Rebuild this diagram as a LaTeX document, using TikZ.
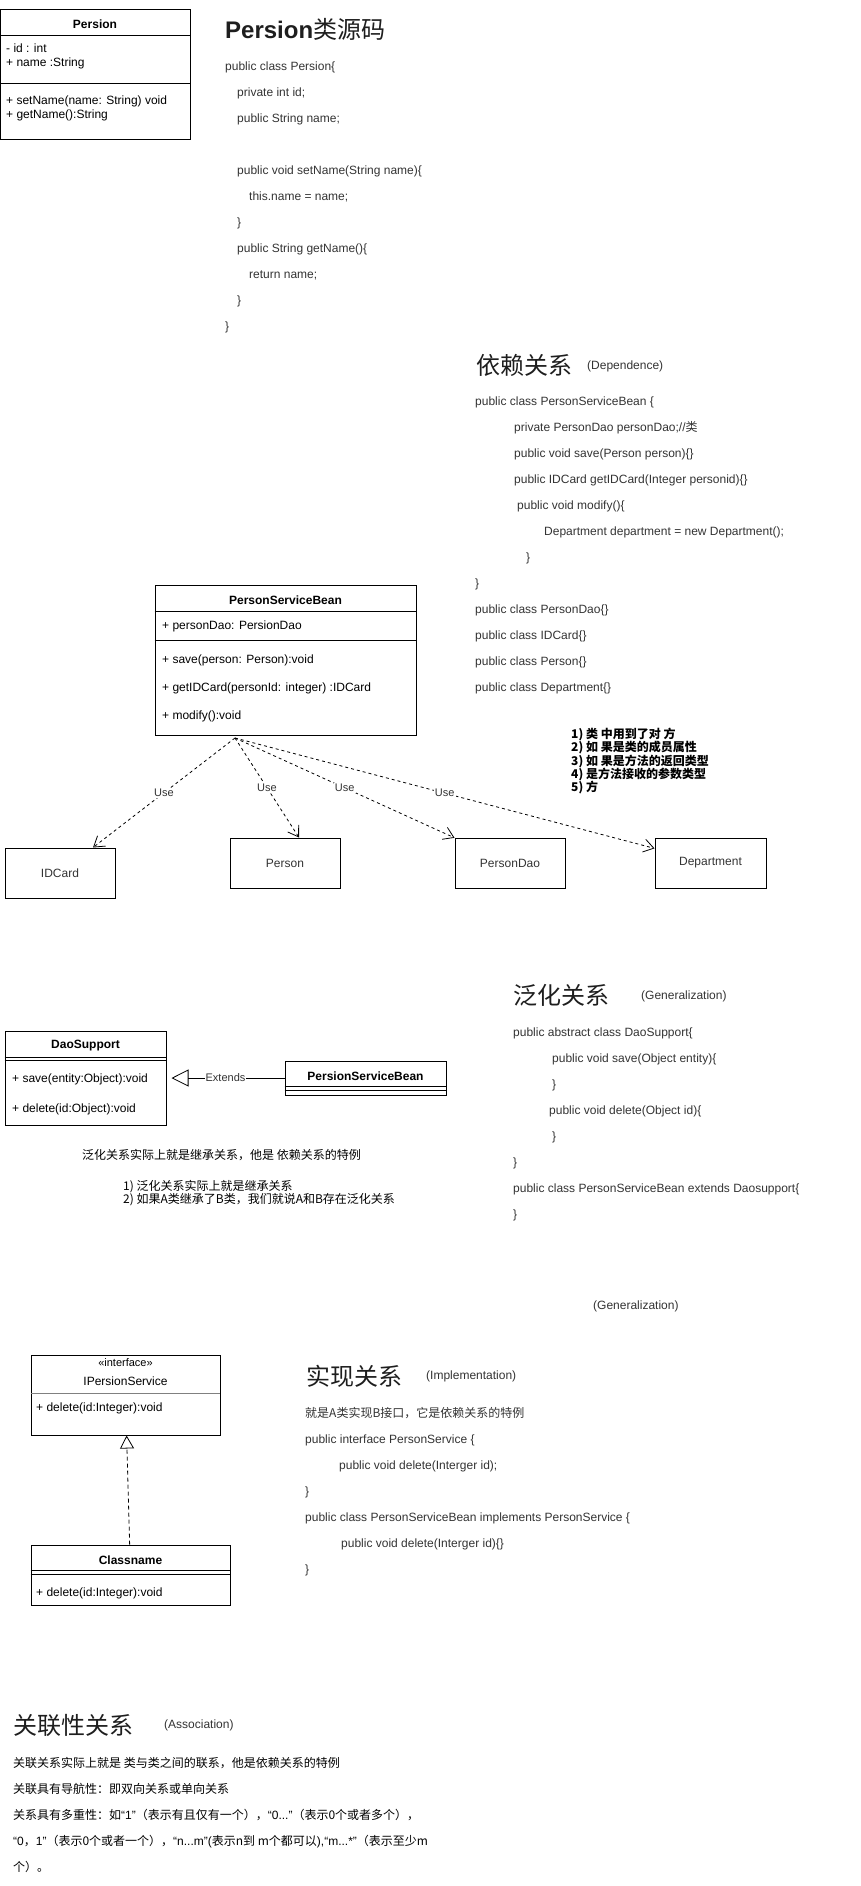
\documentclass[tikz,border=0pt]{standalone}
\usepackage{fontspec}
\setmainfont{Liberation Sans}
\newfontfamily\cjk{Noto Sans CJK SC}
\usetikzlibrary{arrows.meta,calc,positioning}
\definecolor{codeink}{RGB}{51,51,51}
\definecolor{titleink}{RGB}{30,30,30}
\newcommand\codefont{\fontsize{12pt}{26pt}\selectfont}
\newcommand\umlfont{\fontsize{12pt}{14pt}\selectfont}
\newcommand\bigfont{\fontsize{24pt}{28pt}\selectfont}
\newcommand\lblfont{\fontsize{11pt}{13pt}\selectfont}
\newcommand\lat[1]{{\normalfont#1}}
\tikzset{
  umlbox/.style={draw,line width=1pt,inner sep=0pt},
  umlhead/.style={font=\umlfont\bfseries,inner sep=0pt},
  umltxt/.style={font=\umlfont,align=left,anchor=west,inner sep=0pt},
  smallbox/.style={draw,line width=1pt,minimum width=110pt,minimum height=50pt,font=\umlfont,text=codeink},
  codeblock/.style={font=\codefont,text=codeink,align=left,anchor=north west,inner sep=0pt},
  heading/.style={font=\bigfont,text=titleink,anchor=west,inner sep=0pt},
  engnote/.style={font=\umlfont,text=codeink,anchor=west,inner sep=0pt},
  cjknote/.style={font=\umlfont\cjk,align=left,anchor=west,inner sep=0pt},
  usedep/.style={line width=0.8pt,dash pattern=on 3pt off 3pt,-{Straight Barb[length=10pt,width=13pt]}},
  uselbl/.style={font=\lblfont,text=codeink,fill=white,inner sep=1pt},
  extendsarr/.style={line width=0.8pt,-{Triangle[open,length=17pt,width=17pt]},shorten >=5pt},
  realize/.style={line width=0.8pt,dash pattern=on 4pt off 3pt,-{Triangle[open,length=13pt,width=14pt]}}
}
\begin{document}
\begin{tikzpicture}[x=1pt,y=-1pt]
  \useasboundingbox (0,0) rectangle (861,1886);
  % Persion
  \node[umlbox,minimum width=190pt,minimum height=130pt] (persion) at (95,75) {};
  \node[umlhead] (persionName) at (95,24) {Persion};
  \node[umltxt] (persionAttr) at (6,56) {- id : int\\+ name :String};
  \node[umltxt] (persionOps) at (6,108) {+ setName(name: String) void\\+ getName():String};
  \draw (persion.north west) ++(0,26) -- ++(190,0);
  \draw (persion.north west) ++(0,74) -- ++(190,0);
  \node[heading] (hPersion) at (225,29) {{\bfseries Persion}{\cjk 类源码}};
  \node[codeblock] (srcPersion) at (225,62) {public class Persion\{\\
    \hspace*{12pt}private int id;\\
    \hspace*{12pt}public String name;\\[26pt]
    \hspace*{12pt}public void setName(String name)\{\\
    \hspace*{24pt}this.name = name;\\
    \hspace*{12pt}\}\\
    \hspace*{12pt}public String getName()\{\\
    \hspace*{24pt}return name;\\
    \hspace*{12pt}\}\\
    \}};

  % dependence
  \node[heading] (hDep) at (476,365) {\cjk 依赖关系};
  \node[engnote] (hDepEn) at (587,366) {(Dependence)};
  \node[codeblock] (srcDep) at (475,397) {public class PersonServiceBean \{\\
    \hspace*{39pt}private PersonDao personDao;//{\cjk 类}\\
    \hspace*{39pt}public void save(Person person)\{\}\\
    \hspace*{39pt}public IDCard getIDCard(Integer personid)\{\}\\
    \hspace*{42pt}public void modify()\{\\
    \hspace*{69pt}Department department = new Department();\\
    \hspace*{51pt}\}\\
    \}\\
    public class PersonDao\{\}\\
    public class IDCard\{\}\\
    public class Person\{\}\\
    public class Department\{\}};
  \node[umlbox,minimum width=261pt,minimum height=150pt] (psb) at (285.5,660) {};
  \node[umlhead] (psbName) at (285.5,600) {PersonServiceBean};
  \node[umltxt] (psbAttr) at (162,626) {+ personDao: PersionDao};
  \node[umltxt] (psbOps) at (162,688) {+ save(person: Person):void\\[14pt]
    + getIDCard(personId: integer) :IDCard\\[14pt]
    + modify():void};
  \draw (psb.north west) ++(0,27) -- ++(261,0);
  \draw (psb.north west) ++(0,56) -- ++(261,0);
  \node[smallbox] (idcard) at (60,873) {IDCard};
  \node[smallbox] (person) at (285,863) {Person};
  \node[smallbox] (persondao) at (510,863) {PersonDao};
  \node[smallbox,minimum width=111pt] (department) at (710.5,863) {Department};
  \coordinate (useSrc) at (235,738);
  \draw[usedep] (useSrc) -- node[uselbl] {Use} (idcard);
  \draw[usedep] (useSrc) -- node[uselbl] {Use} ($(person.north)+(14,0)$);
  \draw[usedep] (useSrc) -- node[uselbl] {Use} (persondao);
  \draw[usedep] (useSrc) -- node[uselbl] {Use} (department);
  \node[cjknote,font=\fontsize{12pt}{13.3pt}\selectfont\cjk\bfseries,anchor=north west] (depList) at (571,728) {1) 类 中用到了对 方\\2) 如 果是类的成员属性\\3) 如 果是方法的返回类型\\4) 是方法接收的参数类型\\5) 方};

  % generalization
  \node[umlbox,minimum width=161pt,minimum height=94pt] (daosupport) at (85.5,1078) {};
  \node[umlhead] (daoName) at (85.5,1046) {DaoSupport};
  \draw (daosupport.north west) ++(0,27) -- ++(161,0);
  \draw (daosupport.north west) ++(0,30) -- ++(161,0);
  \node[umltxt] (daoOps) at (12,1094) {+ save(entity:Object):void\\[16pt]+ delete(id:Object):void};
  \node[umlbox,minimum width=161pt,minimum height=34pt] (psbExt) at (365.5,1078) {};
  \node[umlhead] (psbExtName) at (365.5,1076) {PersionServiceBean};
  \draw (psbExt.north west) ++(0,26) -- ++(161,0);
  \draw (psbExt.north west) ++(0,30) -- ++(161,0);
  \draw[extendsarr] (psbExt) -- node[uselbl] {Extends} (daosupport);
  \node[cjknote] (genNote) at (82,1155) {泛化关系实际上就是继承关系，他是 依赖关系的特例};
  \node[cjknote,font=\fontsize{12pt}{13.5pt}\selectfont\cjk] (genList) at (123,1193) {1) 泛化关系实际上就是继承关系\\2) 如果A类继承了B类，我们就说A和B存在泛化关系};
  \node[heading] (hGen) at (513,995) {\cjk 泛化关系};
  \node[engnote] (hGenEn) at (641,996) {(Generalization)};
  \node[codeblock] (srcGen) at (513,1028) {public abstract class DaoSupport\{\\
    \hspace*{39pt}public void save(Object entity)\{\\
    \hspace*{39pt}\}\\
    \hspace*{36pt}public void delete(Object id)\{\\
    \hspace*{39pt}\}\\
    \}\\
    public class PersonServiceBean extends Daosupport\{\\
    \}};
  \node[engnote] (genEnAgain) at (593,1306) {(Generalization)};

  % implementation
  \node[umlbox,minimum width=189pt,minimum height=80pt] (iservice) at (125.5,1395) {};
  \node[inner sep=0pt,font=\lblfont] (iserviceTag) at (125.5,1363) {«interface»};
  \node[inner sep=0pt,font=\umlfont] (iserviceName) at (125.5,1381) {IPersionService};
  \draw[gray] (iservice.north west) ++(0,39) -- ++(189,0);
  \node[umltxt] (iserviceOps) at (36,1408) {+ delete(id:Integer):void};
  \node[umlbox,minimum width=199pt,minimum height=60pt] (classname) at (130.5,1575) {};
  \node[umlhead] (classnameName) at (130.5,1560) {Classname};
  \draw (classname.north west) ++(0,26) -- ++(199,0);
  \draw (classname.north west) ++(0,30) -- ++(199,0);
  \node[umltxt] (classnameOps) at (36,1593) {+ delete(id:Integer):void};
  \draw[realize] (classname) -- (iservice);
  \node[heading] (hImpl) at (306,1376) {\cjk 实现关系};
  \node[engnote] (hImplEn) at (426,1376) {(Implementation)};
  \node[codeblock] (srcImpl) at (305,1407) {{\cjk 就是A类实现B接口，它是依赖关系的特例}\\
    public interface PersonService \{\\
    \hspace*{34pt}public void delete(Interger id);\\
    \}\\
    public class PersonServiceBean implements PersonService \{\\
    \hspace*{36pt}public void delete(Interger id)\{\}\\
    \}};

  % association
  \node[heading] (hAssoc) at (13,1725) {\cjk 关联性关系};
  \node[engnote] (hAssocEn) at (164,1725) {(Association)};
  \node[codeblock,font=\codefont\cjk,text=black] (txtAssoc) at (13,1757) {关联关系实际上就是 类与类之间的联系，他是依赖关系的特例\\
    关联具有导航性：即双向关系或单向关系\\
    关系具有多重性：如\lat{“1”}（表示有且仅有一个），\lat{“0...”}（表示0个或者多个），\\
    \lat{“0}，\lat{1”}（表示0个或者一个），\lat{“n...m”(}表示n到 m个都可以\lat{),“m...*”}（表示至少m\\
    个）。};
\end{tikzpicture}
\end{document}
